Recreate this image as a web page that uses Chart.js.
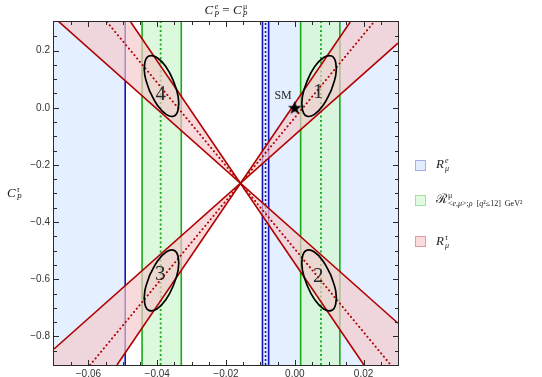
<!DOCTYPE html>
<html><head><meta charset="utf-8">
<script src="https://cdn.jsdelivr.net/npm/chart.js@4.4.1/dist/chart.umd.min.js"></script>
<style>
html,body{margin:0;padding:0;background:#fff;}
#wrap{position:relative;width:542px;height:377px;overflow:hidden;}
canvas{position:absolute;left:0;top:0;}
.tx{position:absolute;font-family:"Liberation Serif","DejaVu Serif",serif;color:#222;white-space:nowrap;line-height:1;}
.ss{display:inline-flex;flex-direction:column;vertical-align:middle;line-height:1;margin-left:1px;}
.sw{position:absolute;width:11px;height:11px;box-sizing:border-box;border:1px solid;}
</style></head>
<body><div id="wrap"><canvas id="c" width="542" height="377"></canvas>
<div class="tx" style="left:0;width:452px;text-align:center;top:3px;font-size:13px"><i>C</i><span class="ss" style="font-size:8px"><i>e</i><i>P</i></span>&nbsp;= <i>C</i><span class="ss" style="font-size:8px"><span>μ</span><i>P</i></span></div>
<div class="tx" style="left:7px;top:186px;font-size:13px"><i>C</i><span class="ss" style="font-size:8px"><i>τ</i><i>P</i></span></div>
<div class="sw" style="left:415px;top:160px;background:#e2edff;border-color:#9fb0ea"></div>
<div class="sw" style="left:415px;top:195px;background:#e2fae2;border-color:#a6dca6"></div>
<div class="sw" style="left:415px;top:236px;background:#fadcdc;border-color:#e29a9a"></div>
<div class="tx" style="left:436px;top:157px;font-size:13px"><i>R</i><span class="ss" style="font-size:8px"><i>e</i><i>μ</i></span></div>
<div class="tx" style="left:436px;top:192px;font-size:13px">ℛ<span class="ss" style="font-size:8px"><span>μ</span><span>&lt;<i>e</i>,<i>μ</i>&gt;;<i>ρ</i> &nbsp;[<i>q</i>²≤12] &nbsp;GeV²</span></span></div>
<div class="tx" style="left:436px;top:234px;font-size:13px"><i>R</i><span class="ss" style="font-size:8px"><i>τ</i><i>μ</i></span></div>
</div>
<script>
// ---------- axis ranges and ticks ----------
const xRange = [-0.07, 0.03];
const yRange = [-0.9, 0.3];
const xTickValues = [-0.06, -0.04, -0.02, 0.00, 0.02];
const xTickLabels = ['\u22120.06', '\u22120.04', '\u22120.02', '0.00', '0.02'];
const yTickValues = [0.2, 0.0, -0.2, -0.4, -0.6, -0.8];
const yTickLabels = ['0.2', '0.0', '\u22120.2', '\u22120.4', '\u22120.6', '\u22120.8'];
const xMinorStep = 0.005;
const yMinorStep = 0.05;

// ---------- R_mu^e (blue) ----------
const reRegions = [[-0.0700, -0.0493], [-0.0094, 0.0300]];
const reBoundaries = [-0.0493, -0.0094, -0.0076];
const reCentral = [-0.0085];

// ---------- R^mu (green) ----------
const rmuRegions = [[-0.0444, -0.0330], [0.0017, 0.0131]];
const rmuBoundaries = [-0.0444, -0.0330, 0.0017, 0.0131];
const rmuCentral = [-0.0390, 0.0076];

// ---------- R_mu^tau (red) lines: [start, end] ----------
const rtauRisingSteep = [[-0.0517, -0.900], [0.0161, 0.300]];
const rtauRisingCentral = [[-0.0595, -0.900], [0.0230, 0.300]];
const rtauRisingShallow = [[-0.0700, -0.844], [0.0300, 0.226]];
const rtauFallingSteep = [[-0.0477, 0.300], [0.0201, -0.900]];
const rtauFallingCentral = [[-0.0546, 0.300], [0.0279, -0.900]];
const rtauFallingShallow = [[-0.0700, 0.316], [0.0300, -0.754]];

// ---------- combined-fit contours ----------
const contour1 = [[0.0105,0.058],[0.0082,0.008],[0.0056,-0.024],[0.0034,-0.029],[0.0022,-0.006],[0.0022,0.039],[0.0036,0.094],[0.0058,0.144],[0.0084,0.176],[0.0107,0.181],[0.0119,0.158],[0.0119,0.113],[0.0105,0.058]];
const contour2 = [[0.0105,-0.586],[0.0082,-0.536],[0.0056,-0.504],[0.0034,-0.499],[0.0022,-0.522],[0.0022,-0.567],[0.0036,-0.622],[0.0058,-0.672],[0.0084,-0.704],[0.0107,-0.709],[0.0119,-0.686],[0.0119,-0.641],[0.0105,-0.586]];
const contour3 = [[-0.0422,-0.586],[-0.0399,-0.536],[-0.0373,-0.504],[-0.0351,-0.499],[-0.0339,-0.522],[-0.0339,-0.567],[-0.0353,-0.622],[-0.0375,-0.672],[-0.0401,-0.704],[-0.0424,-0.709],[-0.0436,-0.686],[-0.0436,-0.641],[-0.0422,-0.586]];
const contour4 = [[-0.0422,0.058],[-0.0399,0.008],[-0.0373,-0.024],[-0.0351,-0.029],[-0.0339,-0.006],[-0.0339,0.039],[-0.0353,0.094],[-0.0375,0.144],[-0.0401,0.176],[-0.0424,0.181],[-0.0436,0.158],[-0.0436,0.113],[-0.0422,0.058]];

// ---------- labels ----------
const contourLabels = ['1', '2', '3', '4'];
const contourLabelX = [0.0068, 0.0068, -0.0391, -0.0390];
const contourLabelY = [0.054, -0.590, -0.585, 0.046];
const smPoint = [0.0, 0.0];
const smLabel = 'SM';
const smLabelPos = [-0.0034, 0.041];

// ---------- build datasets ----------
const [xMin, xMax] = xRange, [yMin, yMax] = yRange;
const P = a => a.map(p => ({x: p[0], y: p[1]}));
const datasets = [];
function poly(pts, color, order) {
  datasets.push({data: P(pts), fill: 'shape', backgroundColor: color, borderColor: 'rgba(0,0,0,0)',
    borderWidth: 0, pointRadius: 0, tension: 0, order});
}
function line(pts, color, width, dash, cap, order, tension) {
  datasets.push({data: P(pts), fill: false, borderColor: color, borderWidth: width, borderDash: dash,
    borderCapStyle: cap, pointRadius: 0, tension: tension || 0, order});
}
const vert = v => [[v, yMin], [v, yMax]];

const BLUE_FILL = 'rgba(30,130,255,0.12)', BLUE = '#1414b4';
const GREEN_FILL = 'rgba(214,248,214,0.82)', GREEN = '#19aa19';
const RED_FILL = 'rgba(244,200,204,0.68)', RED = '#b00000';

reRegions.forEach(r => poly([[r[0], yMin], [r[0], yMax], [r[1], yMax], [r[1], yMin]], BLUE_FILL, 100));
reBoundaries.forEach(v => line(vert(v), BLUE, 1.6, [], 'butt', 90));
reCentral.forEach(v => line(vert(v), BLUE, 1.6, [2, 2], 'butt', 90));

rmuRegions.forEach(r => poly([[r[0], yMin], [r[0], yMax], [r[1], yMax], [r[1], yMin]], GREEN_FILL, 80));
rmuBoundaries.forEach(v => line(vert(v), GREEN, 1.6, [], 'butt', 70));
rmuCentral.forEach(v => line(vert(v), GREEN, 1.8, [2, 2.5], 'butt', 70));

poly([rtauRisingSteep[0], rtauRisingSteep[1], [xMax, yMax], rtauRisingShallow[1], rtauRisingShallow[0], [xMin, yMin]], RED_FILL, 60);
poly([rtauFallingSteep[0], rtauFallingSteep[1], [xMax, yMin], rtauFallingShallow[1], rtauFallingShallow[0], [xMin, yMax]], RED_FILL, 60);
[rtauRisingSteep, rtauRisingShallow, rtauFallingSteep, rtauFallingShallow].forEach(l => line(l, RED, 1.6, [], 'butt', 50));
[rtauRisingCentral, rtauFallingCentral].forEach(l => line(l, RED, 2, [0.1, 4.2], 'round', 50));

[contour1, contour2, contour3, contour4].forEach(c => line(c, '#000', 1.7, [], 'butt', 40, 0.4));

// SM star point style
const star = document.createElement('canvas');
star.width = 15; star.height = 15;
(() => {
  const s = star.getContext('2d');
  s.beginPath();
  for (let i = 0; i < 10; i++) {
    const r = i % 2 ? 2.9 : 7.2, a = -Math.PI / 2 + i * Math.PI / 5;
    const px = 7.5 + r * Math.cos(a), py = 8 + r * Math.sin(a);
    i ? s.lineTo(px, py) : s.moveTo(px, py);
  }
  s.closePath(); s.fillStyle = '#000'; s.fill();
})();
datasets.push({data: P([smPoint]), showLine: false, pointStyle: star, pointRadius: 7, order: 5});

// ---------- plugins ----------
const framePlugin = {
  id: 'frame',
  afterDatasetsDraw(chart) {
    const {ctx, chartArea: a, scales: {x, y}} = chart;
    ctx.save();
    // labels
    ctx.fillStyle = '#2a2a2a';
    ctx.textAlign = 'center'; ctx.textBaseline = 'middle';
    ctx.font = '21px "Liberation Serif", serif';
    contourLabels.forEach((t, i) => ctx.fillText(t, x.getPixelForValue(contourLabelX[i]), y.getPixelForValue(contourLabelY[i])));
    ctx.font = '12px "Liberation Serif", serif';
    ctx.fillText(smLabel, x.getPixelForValue(smLabelPos[0]), y.getPixelForValue(smLabelPos[1]));
    // frame
    ctx.strokeStyle = '#2a2a2a'; ctx.lineWidth = 1;
    ctx.strokeRect(a.left - 0.5, a.top - 0.5, a.right - a.left + 1, a.bottom - a.top + 1);
    ctx.beginPath();
    const nx = Math.round((xMax - xMin) / xMinorStep);
    for (let i = 1; i < nx; i++) {
      const v = xMin + i * xMinorStep;
      const major = xTickValues.some(t => Math.abs(t - v) < 1e-9);
      const px = Math.round(x.getPixelForValue(v)) + 0.5, L = major ? 5 : 3;
      ctx.moveTo(px, a.bottom); ctx.lineTo(px, a.bottom - L);
      ctx.moveTo(px, a.top); ctx.lineTo(px, a.top + L);
    }
    const ny = Math.round((yMax - yMin) / yMinorStep);
    for (let i = 1; i < ny; i++) {
      const v = yMin + i * yMinorStep;
      const major = yTickValues.some(t => Math.abs(t - v) < 1e-9);
      const py = Math.round(y.getPixelForValue(v)) + 0.5, L = major ? 5 : 3;
      ctx.moveTo(a.left, py); ctx.lineTo(a.left + L, py);
      ctx.moveTo(a.right, py); ctx.lineTo(a.right - L, py);
    }
    ctx.stroke();
    ctx.restore();
  }
};

const tickFont = {family: '"Liberation Sans", Arial, sans-serif', size: 10};
new Chart(document.getElementById('c'), {
  type: 'line',
  data: {datasets},
  options: {
    responsive: false, animation: false, events: [],
    layout: {padding: {left: 0, top: 22, right: 144, bottom: 0}},
    elements: {point: {radius: 0}},
    plugins: {legend: {display: false}, tooltip: {enabled: false}},
    scales: {
      x: {type: 'linear', min: xMin, max: xMax,
        grid: {display: false, drawTicks: false}, border: {display: false},
        afterBuildTicks: s => { s.ticks = xTickValues.map(v => ({value: v})); },
        ticks: {callback: (v, i) => xTickLabels[i], font: tickFont, color: '#333', padding: 3, maxRotation: 0, autoSkip: false},
        afterFit: s => { s.height = 12; }},
      y: {type: 'linear', min: yMin, max: yMax,
        grid: {display: false, drawTicks: false}, border: {display: false},
        afterBuildTicks: s => { s.ticks = yTickValues.map(v => ({value: v})); },
        ticks: {callback: (v, i) => yTickLabels[i], font: tickFont, color: '#333', padding: 4, autoSkip: false},
        afterFit: s => { s.width = 54; }}
    }
  },
  plugins: [framePlugin]
});
</script>
</body></html>
